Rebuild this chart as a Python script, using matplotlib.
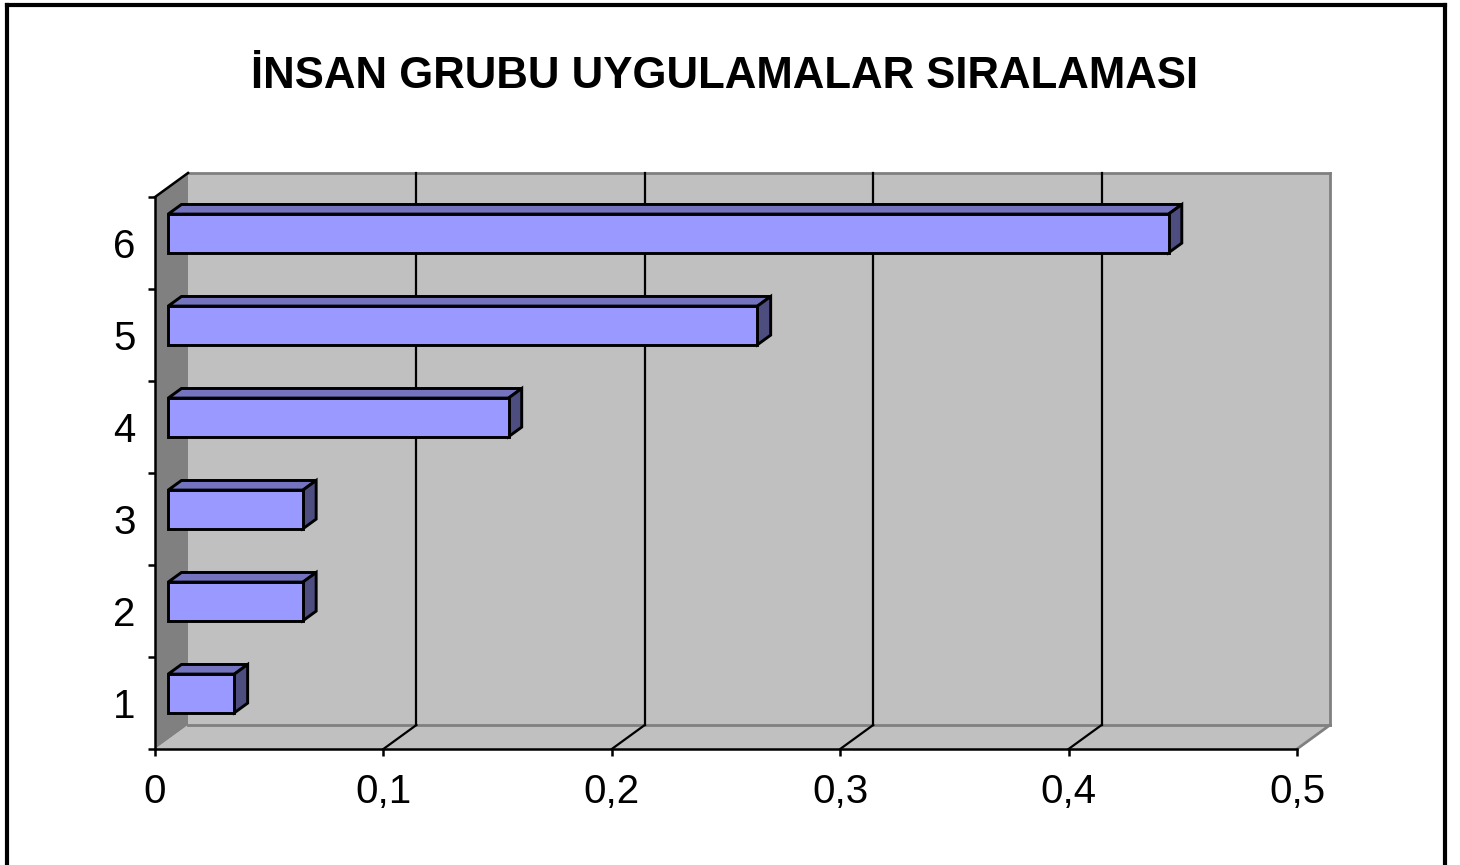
import numpy as np
import matplotlib
matplotlib.use("Agg")
from matplotlib import pyplot as plt
from matplotlib.patches import Polygon, Rectangle
from matplotlib.lines import Line2D

plt.rcParams["font.family"] = ["Liberation Sans", "DejaVu Sans"]

# data
categories = [1, 2, 3, 4, 5, 6]
values = [0.029, 0.059, 0.059, 0.149, 0.258, 0.438]
xticks = [0, 0.1, 0.2, 0.3, 0.4, 0.5]
xticklabels = ["0", "0,1", "0,2", "0,3", "0,4", "0,5"]
title = "İNSAN GRUBU UYGULAMALAR SIRALAMASI"

W, H = 1460, 865
fig = plt.figure(figsize=(W / 100, H / 100), dpi=100)

# front plane of the 3D box in pixels
x0px, x1px, ytop, ybot = 155, 1297, 197, 749
ax = fig.add_axes([x0px / W, 1 - ybot / H, (x1px - x0px) / W, (ybot - ytop) / H])
ax.set_xlim(0, 0.5)
ax.set_ylim(0.5, 6.5)
ax.patch.set_visible(False)

# depth vector (front -> back) in data units
ddx = 33 * 0.5 / (x1px - x0px)
ddy = 24 * 6.0 / (ybot - ytop)

wall = "#c0c0c0"
side = "#808080"
edge_gray = "#808080"
lw = 1.6      # grid / wall lines
blw = 2.1     # bar outlines
alw = 1.8     # axis lines

# back wall
ax.add_patch(Rectangle((ddx, 0.5 + ddy), 0.5, 6.0, facecolor=wall,
                       edgecolor="none", clip_on=False, zorder=1))
# floor
ax.add_patch(Polygon([(0, 0.5), (0.5, 0.5), (0.5 + ddx, 0.5 + ddy), (ddx, 0.5 + ddy)],
                     closed=True, facecolor=wall, edgecolor="none", clip_on=False, zorder=1))
# left side wall
ax.add_patch(Polygon([(0, 0.5), (0, 6.5), (ddx, 6.5 + ddy), (ddx, 0.5 + ddy)],
                     closed=True, facecolor=side, edgecolor="none", clip_on=False, zorder=1))

# gray outline of back wall and floor
for xs, ys in [
    ([ddx, 0.5 + ddx], [6.5 + ddy, 6.5 + ddy]),
    ([0.5 + ddx, 0.5 + ddx], [6.5 + ddy, 0.5 + ddy]),
    ([ddx, 0.5 + ddx], [0.5 + ddy, 0.5 + ddy]),
    ([0.5, 0.5 + ddx], [0.5, 0.5 + ddy]),
]:
    ax.add_line(Line2D(xs, ys, color=edge_gray, lw=lw + 0.4, clip_on=False, zorder=2))

# gridlines on back wall and floor
for x in xticks[1:-1]:
    ax.add_line(Line2D([x + ddx, x + ddx], [0.5 + ddy, 6.5 + ddy], color="black",
                       lw=lw, clip_on=False, zorder=2))
    ax.add_line(Line2D([x, x + ddx], [0.5, 0.5 + ddy], color="black",
                       lw=lw, clip_on=False, zorder=2))

# top diagonal of the left wall
ax.add_line(Line2D([0, ddx], [6.5, 6.5 + ddy], color="black", lw=alw,
                   clip_on=False, zorder=2))

# 3D bars
f0, f1 = 0.4, 0.8
bh = 0.42
front_c, top_c, side_c = "#9999ff", "#7373bf", "#4d4d80"
for cat, v in zip(categories, values):
    xa, ya = f0 * ddx, cat - bh / 2 + f0 * ddy
    xb, yb = f1 * ddx, cat - bh / 2 + f1 * ddy
    top = Polygon([(xa, ya + bh), (xa + v, ya + bh), (xb + v, yb + bh), (xb, yb + bh)],
                  closed=True, facecolor=top_c, edgecolor="black", lw=blw,
                  joinstyle="miter", zorder=3)
    rside = Polygon([(xa + v, ya), (xb + v, yb), (xb + v, yb + bh), (xa + v, ya + bh)],
                    closed=True, facecolor=side_c, edgecolor="black", lw=blw,
                    joinstyle="miter", zorder=3)
    front = Rectangle((xa, ya), v, bh, facecolor=front_c, edgecolor="black",
                      lw=blw, joinstyle="miter", zorder=4)
    ax.add_patch(top)
    ax.add_patch(rside)
    ax.add_patch(front)

# axes
for s in ["top", "right"]:
    ax.spines[s].set_visible(False)
for s in ["left", "bottom"]:
    ax.spines[s].set_linewidth(alw)
    ax.spines[s].set_color("black")
    ax.spines[s].set_zorder(5)

ax.set_xticks(xticks)
ax.set_xticklabels(xticklabels)
ax.set_yticks(np.arange(0.5, 7, 1.0))
ax.set_yticklabels([])
ax.set_yticks(categories, minor=True)
ax.set_yticklabels([str(c) for c in categories], minor=True)
ax.tick_params(axis="x", direction="out", length=5, width=alw, labelsize=29, pad=12)
ax.tick_params(axis="y", which="major", direction="out", length=5, width=alw)
ax.tick_params(axis="y", which="minor", length=0, labelsize=29, pad=14)

fig.text(725 / W, 1 - 77 / H, title, ha="center", va="center",
         fontsize=31.5, fontweight="bold")

# chart frame (bottom edge is outside the picture)
for xs, ys in [([6.5, 6.5], [H + 5, 4.5]), ([6.5, 1445], [4.5, 4.5]),
               ([1445, 1445], [4.5, H + 5])]:
    fig.add_artist(Line2D([x / W for x in xs], [1 - y / H for y in ys],
                          color="black", lw=3, transform=fig.transFigure))

fig.savefig("out.png", dpi=100, facecolor="white")
